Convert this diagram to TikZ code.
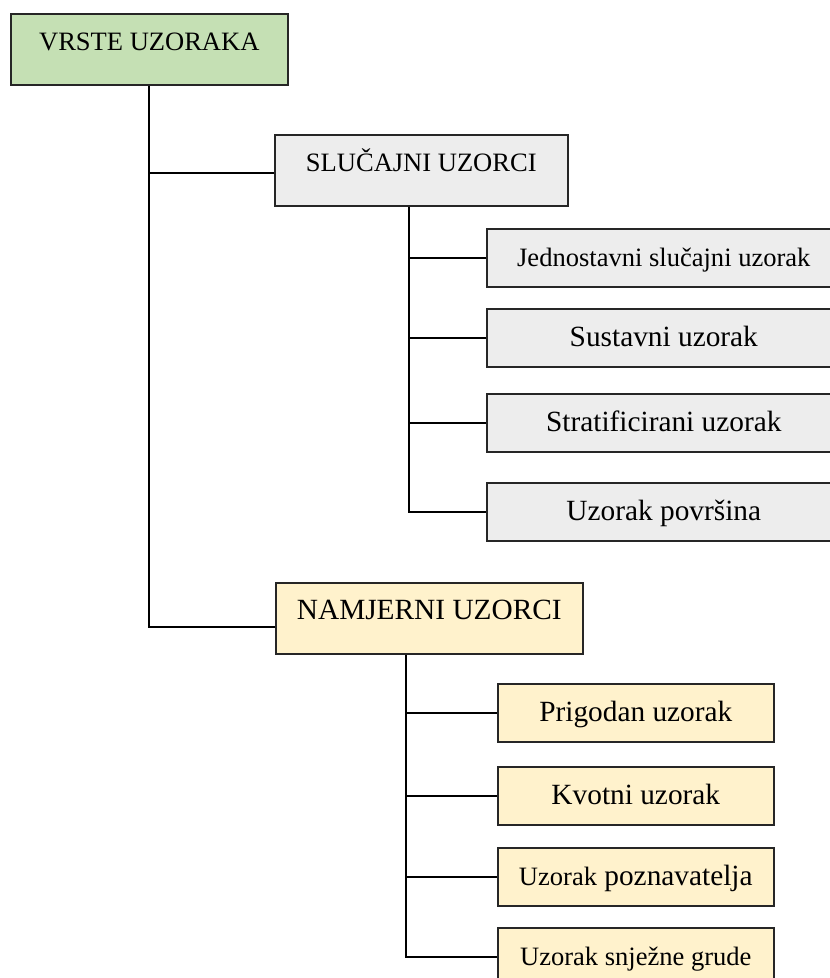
\documentclass[tikz,border=0pt]{standalone}
\usepackage{fontspec}
\setmainfont{Liberation Serif}
\newlength\px
\setlength\px{0.75pt}
\definecolor{rootgreen}{HTML}{C5E0B4}
\definecolor{randgrey}{HTML}{EDEDED}
\definecolor{purpyellow}{HTML}{FFF2CC}
\newcommand\smalltxt{\fontsize{19.9}{24}\selectfont}
\newcommand\bigtxt{\fontsize{22}{26}\selectfont}

\begin{document}
\begin{tikzpicture}[
    x=0.75pt, y=-0.75pt,
    box/.style={
        rectangle,
        draw=black!85,
        line width=1.2pt,
        anchor=north west,
        inner xsep=0pt,
        inner ysep=0pt,
        align=center
    },
    head/.style={box, text height=37\px, text depth=34\px, font=\smalltxt},
    leaf/.style={box, text height=38\px, text depth=20\px, font=\bigtxt},
    link/.style={line width=1.7pt, draw=black}
]
\clip (0,0) rectangle (830,978);

\node[head, fill=rootgreen, minimum width=277\px] (root) at (10,13) {VRSTE UZORAKA};
\node[head, fill=randgrey, minimum width=293\px] (slu) at (274,134) {SLUČAJNI UZORCI};
\node[head, fill=purpyellow, minimum width=307\px, font=\bigtxt] (nam) at (275,582) {NAMJERNI UZORCI};

% random samples
\node[leaf, fill=randgrey, minimum width=354\px, font=\smalltxt] (jed) at (486,228) {Jednostavni slučajni uzorak};
\node[leaf, fill=randgrey, minimum width=354\px] (sus) at (486,308) {Sustavni uzorak};
\node[leaf, fill=randgrey, minimum width=354\px] (str) at (486,393) {Stratificirani uzorak};
\node[leaf, fill=randgrey, minimum width=354\px] (pov) at (486,482) {Uzorak površina};

% purposive samples
\node[leaf, fill=purpyellow, minimum width=276\px] (pri) at (497,683) {Prigodan uzorak};
\node[leaf, fill=purpyellow, minimum width=276\px] (kvo) at (497,766) {Kvotni uzorak};
\node[leaf, fill=purpyellow, minimum width=276\px] (poz) at (497,847) {{\smalltxt Uzorak} poznavatelja};
\node[leaf, fill=purpyellow, minimum width=276\px, font=\smalltxt] (snj) at (497,927) {Uzorak snježne grude};

\coordinate (sluin) at ([yshift=-3\px]slu.west);
\coordinate (namin) at ([yshift=-9\px]nam.west);
\coordinate (slutrunk) at ([xshift=-12\px]slu.south);
\coordinate (namtrunk) at ([xshift=-23\px]nam.south);

\draw[link] (root.south) |- (namin);
\draw[link] (root.south |- sluin) -- (sluin);

\draw[link] (slutrunk) |- (pov.west);
\draw[link] (slutrunk |- jed.west) -- (jed.west);
\draw[link] (slutrunk |- sus.west) -- (sus.west);
\draw[link] (slutrunk |- str.west) -- (str.west);

\draw[link] (namtrunk) |- (snj.west);
\draw[link] (namtrunk |- pri.west) -- (pri.west);
\draw[link] (namtrunk |- kvo.west) -- (kvo.west);
\draw[link] (namtrunk |- poz.west) -- (poz.west);

\end{tikzpicture}
\end{document}
